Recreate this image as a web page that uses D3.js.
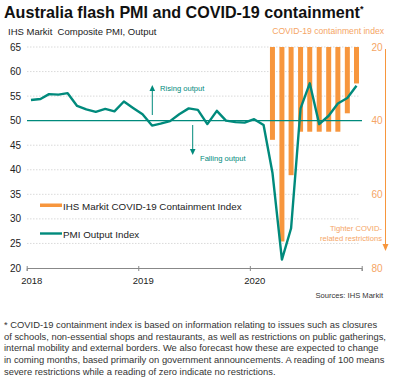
<!DOCTYPE html>
<html><head><meta charset="utf-8">
<script src="https://cdn.jsdelivr.net/npm/d3@7"></script>
<style>
html,body{margin:0;padding:0;background:#fff;}
svg{display:block;font-family:"Liberation Sans",Arial,sans-serif;}
</style></head>
<body><svg id="c" width="402" height="392"></svg>
<script>
// ---- data ----
const months = ["2018-01","2018-02","2018-03","2018-04","2018-05","2018-06","2018-07","2018-08","2018-09","2018-10","2018-11","2018-12",
"2019-01","2019-02","2019-03","2019-04","2019-05","2019-06","2019-07","2019-08","2019-09","2019-10","2019-11","2019-12",
"2020-01","2020-02","2020-03","2020-04","2020-05","2020-06","2020-07","2020-08","2020-09","2020-10","2020-11","2020-12"];
const pmiValues = [54.2,54.4,55.4,55.3,55.6,53.0,52.3,51.8,52.4,51.9,53.9,52.6,
51.3,49.0,49.4,49.9,51.3,52.5,52.2,49.3,52.0,50.0,49.7,49.6,
50.3,49.1,39.4,21.7,28.1,52.5,57.6,49.3,51.0,53.5,54.6,57.1];
const containMonths = ["2020-03","2020-04","2020-05","2020-06","2020-07","2020-08","2020-09","2020-10","2020-11","2020-12"];
const containValues = [45.2,72.8,54.8,43.0,43.0,43.0,43.0,43.0,38.0,29.9];
const leftTicks = [20,25,30,35,40,45,50,55,60,65];
const rightTicks = [20,40,60,80];
const yearTicks = ["2018","2019","2020","2021"];
const yearLabels = ["2018","2019","2020"];
const footnote = [
"* COVID-19 containment index is based on information relating to issues such as closures",
"of schools, non-essential shops and restaurants, as well as restrictions on public gatherings,",
"internal mobility and external borders. We also forecast how these are expected to change",
"in coming months, based primarily on government announcements. A reading of 100 means",
"severe restrictions while a reading of zero indicate no restrictions."];

const teal = "#008a7c", orange = "#f7963d", orangeText = "#f5a565";
const svg = d3.select("#c");
const parse = d3.timeParse("%Y-%m");
const mid = s => d3.timeDay.offset(parse(s), 14);

const x = d3.scaleTime().domain([parse("2018-01"), parse("2021-01")]).range([26.7, 361.7]);
const yL = d3.scaleLinear().domain([20,65]).range([268,47]);
const yR = d3.scaleLinear().domain([20,80]).range([47,268]);

// title
const t = svg.append("text").attr("x",4).attr("y",18).attr("font-size",16.1).attr("font-weight","bold").attr("fill","#111")
  .text("Australia flash PMI and COVID-19 containment");
t.append("tspan").attr("font-size",9).attr("dy",-6).text("*");
svg.append("text").attr("x",8).attr("y",35).attr("font-size",9.5).attr("fill","#222").text("IHS Markit\u00a0\u00a0Composite PMI, Output");
svg.append("text").attr("x",384).attr("y",34).attr("font-size",8.6).attr("text-anchor","end").attr("fill",orangeText).text("COVID-19 containment index");

// gridlines
svg.append("g").selectAll("line").data(leftTicks.filter(d=>d!==20 && d!==50)).join("line")
  .attr("x1",27).attr("x2",360).attr("y1",d=>yL(d)).attr("y2",d=>yL(d))
  .attr("stroke","#d0d0d0").attr("stroke-width",0.8).attr("stroke-dasharray","1.5,1.5");

// left labels
svg.append("g").selectAll("text").data(leftTicks).join("text")
  .attr("x",21).attr("y",d=>yL(d)).attr("dy","0.35em").attr("text-anchor","end")
  .attr("font-size",10).attr("fill","#222").text(d=>d);
// right labels
svg.append("g").selectAll("text").data(rightTicks).join("text")
  .attr("x",371.5).attr("y",d=>yR(d)).attr("dy","0.35em").attr("text-anchor","start")
  .attr("font-size",10).attr("fill",orangeText).text(d=>d);

// bars
const bw = 5;
svg.append("g").selectAll("rect").data(containMonths.map((m,i)=>({m,v:containValues[i]}))).join("rect")
  .attr("x",d=>x(mid(d.m))-bw/2).attr("width",bw)
  .attr("y",yR(20)).attr("height",d=>yR(d.v)-yR(20)).attr("fill",orange);

// 50 line
svg.append("line").attr("x1",27).attr("x2",362).attr("y1",yL(50)).attr("y2",yL(50)).attr("stroke",teal).attr("stroke-width",1.1);

// PMI line
svg.append("path").datum(months.map((m,i)=>({d:mid(m),v:pmiValues[i]})))
  .attr("d",d3.line().x(d=>x(d.d)).y(d=>yL(d.v)))
  .attr("fill","none").attr("stroke",teal).attr("stroke-width",2.4).attr("stroke-linejoin","round");

// bottom axis
const ax = svg.append("g").attr("transform",`translate(0,${yL(20)})`)
  .call(d3.axisBottom(x).tickValues(yearTicks.map(y=>d3.timeParse("%Y")(y))).tickSize(3).tickFormat(""));
ax.select(".domain").attr("stroke","#888").attr("stroke-width",1);
ax.selectAll(".tick line").attr("stroke","#888").attr("y1",-2).attr("y2",3);
svg.append("g").selectAll("text").data(yearLabels).join("text")
  .attr("x",d=>x(d3.timeParse("%Y")(d))+5).attr("y",284).attr("text-anchor","middle")
  .attr("font-size",9.5).attr("fill","#222").text(d=>d);

// right arrow
svg.append("line").attr("x1",385.5).attr("x2",385.5).attr("y1",49).attr("y2",250).attr("stroke",orange).attr("stroke-width",1);
svg.append("path").attr("d","M382.5,244 L388.5,244 L385.5,251 Z").attr("fill",orange);
svg.append("text").attr("x",382).attr("y",231).attr("text-anchor","end").attr("font-size",7.6).attr("fill",orangeText).text("Tighter COVID-");
svg.append("text").attr("x",382).attr("y",240.5).attr("text-anchor","end").attr("font-size",7.6).attr("fill",orangeText).text("related restrictions");

// rising / falling annotations
svg.append("line").attr("x1",152.3).attr("x2",152.3).attr("y1",115).attr("y2",90).attr("stroke",teal).attr("stroke-width",1);
svg.append("path").attr("d","M149.5,91 L155.1,91 L152.3,85 Z").attr("fill",teal);
svg.append("text").attr("x",160).attr("y",91).attr("font-size",7.6).attr("fill",teal).text("Rising output");
svg.append("line").attr("x1",192.7).attr("x2",192.7).attr("y1",125).attr("y2",150).attr("stroke",teal).attr("stroke-width",1);
svg.append("path").attr("d","M189.9,149 L195.5,149 L192.7,155 Z").attr("fill",teal);
svg.append("text").attr("x",200).attr("y",161).attr("font-size",7.6).attr("fill",teal).text("Falling output");

// legend
svg.append("rect").attr("x",40).attr("y",203.5).attr("width",22).attr("height",3.5).attr("fill",orange);
svg.append("text").attr("x",63).attr("y",209.5).attr("font-size",9.8).attr("fill","#222").text("IHS Markit COVID-19 Containment Index");
svg.append("line").attr("x1",40).attr("x2",62).attr("y1",233.5).attr("y2",233.5).attr("stroke",teal).attr("stroke-width",2.4);
svg.append("text").attr("x",63).attr("y",237.5).attr("font-size",9.8).attr("fill","#222").text("PMI Output Index");

// sources
svg.append("text").attr("x",383).attr("y",298).attr("text-anchor","end").attr("font-size",7.6).attr("fill","#333").text("Sources: IHS Markit");

// footnote
svg.append("g").selectAll("text").data(footnote).join("text")
  .attr("x",4).attr("y",(d,i)=>328+i*11.7).attr("font-size",9.4).attr("fill","#333").text(d=>d);
</script></body></html>
